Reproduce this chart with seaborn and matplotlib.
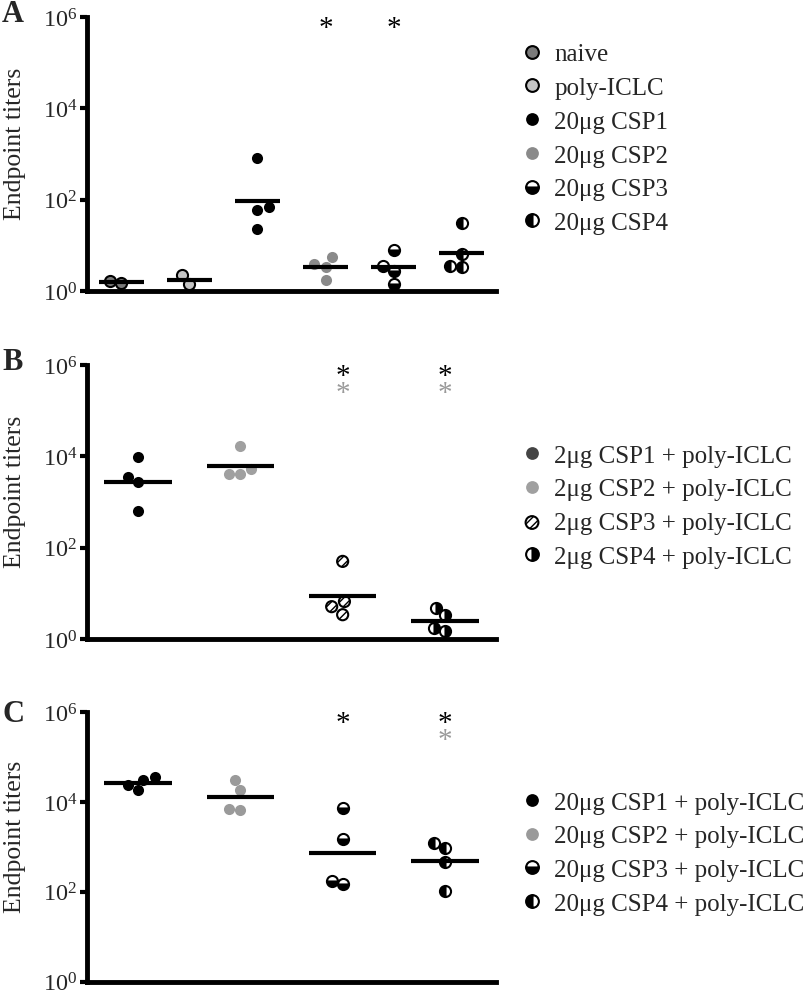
import numpy as np
import pandas as pd
import seaborn as sns
from matplotlib import pyplot as plt
from matplotlib.lines import Line2D
from matplotlib.ticker import NullLocator
from matplotlib.transforms import blended_transform_factory

# ---- panel A: ELISA endpoint titers, no adjuvant ----
groups_a = ['naive', 'poly-ICLC', '20μg CSP1', '20μg CSP2', '20μg CSP3', '20μg CSP4']
naive_a = [1.5, 1.66]
poly_a = [1.42, 2.24]
csp1_a = [812, 70, 60, 23]
csp2_a = [3.9, 5.5, 3.4, 1.74]
csp3_a = [8.1, 3.6, 2.8, 1.43]
csp4_a = [31, 6.5, 3.3, 3.5]
stars_a = [('20μg CSP2', 'black'), ('20μg CSP3', 'black')]

# ---- panel B: 2ug + poly-ICLC ----
groups_b = ['2μg CSP1 + poly-ICLC', '2μg CSP2 + poly-ICLC',
            '2μg CSP3 + poly-ICLC', '2μg CSP4 + poly-ICLC']
csp1_b = [9800, 3470, 2700, 620]
csp2_b = [16600, 5250, 4000, 4070]
csp3_b = [50, 6.6, 5.1, 3.4]
csp4_b = [3.35, 4.7, 1.5, 1.74]
stars_b = [('2μg CSP3 + poly-ICLC', 'black'), ('2μg CSP4 + poly-ICLC', 'black'),
           ('2μg CSP3 + poly-ICLC', 'gray'), ('2μg CSP4 + poly-ICLC', 'gray')]

# ---- panel C: 20ug + poly-ICLC ----
groups_c = ['20μg CSP1 + poly-ICLC', '20μg CSP2 + poly-ICLC',
            '20μg CSP3 + poly-ICLC', '20μg CSP4 + poly-ICLC']
csp1_c = [31600, 19000, 24500, 35500]
csp2_c = [31600, 19000, 6760, 6900]
csp3_c = [7400, 1480, 146, 174]
csp4_c = [1200, 930, 457, 105]
stars_c = [('20μg CSP3 + poly-ICLC', 'black'), ('20μg CSP4 + poly-ICLC', 'black'),
           ('20μg CSP4 + poly-ICLC', 'gray')]

GRAY_STAR = '#9a9a9a'
MS = 8

# marker styles (face, edge, half fill ...)
styles_a = [
    dict(face='#7a7a7a', edge='black', mew=1.5),
    dict(face='#c4c4c4', edge='black', mew=1.5),
    dict(face='black', edge='black', mew=0),
    dict(face='#8a8a8a', edge='#8a8a8a', mew=0),
    dict(face='black', edge='black', mew=1.5, fill='bottom', alt='white'),
    dict(face='black', edge='black', mew=1.5, fill='left', alt='white'),
]
styles_b = [
    dict(face='black', edge='black', mew=0, legend_face='#444444'),
    dict(face='#a0a0a0', edge='#a0a0a0', mew=0),
    dict(face='white', edge='black', mew=1.5, hatch='////'),
    dict(face='black', edge='black', mew=1.5, fill='right', alt='white'),
]
styles_c = [
    dict(face='black', edge='black', mew=0),
    dict(face='#9a9a9a', edge='#9a9a9a', mew=0),
    dict(face='black', edge='black', mew=1.5, fill='bottom', alt='white'),
    dict(face='black', edge='black', mew=1.5, fill='left', alt='white'),
]

sns.set_style('white')
plt.rcParams['font.family'] = ['Liberation Serif', 'DejaVu Serif']
plt.rcParams['mathtext.fontset'] = 'custom'
plt.rcParams['mathtext.rm'] = 'Liberation Serif'


def marker_kw(st, face=None):
    return dict(marker='o', ls='none', ms=MS,
                mfc=face or st['face'], mec=st['edge'], mew=st['mew'],
                fillstyle=st.get('fill', 'full'),
                markerfacecoloralt=st.get('alt', 'white'))


def make_panel(ax, groups, values, styles, stars):
    df = pd.DataFrame({
        'group': np.repeat(groups, [len(v) for v in values]),
        'titer': np.concatenate(values),
    })
    pal = {g: st['face'] for g, st in zip(groups, styles)}
    sns.swarmplot(data=df, x='group', y='titer', hue='group', order=groups,
                  hue_order=groups, palette=pal, size=MS, log_scale=True,
                  legend=False, ax=ax)
    colls = list(ax.collections)

    # geometric mean bars
    for i, v in enumerate(values):
        gm = 10 ** np.mean(np.log10(v))
        ax.plot([i - 0.33, i + 0.33], [gm, gm], color='black', lw=3,
                solid_capstyle='butt', zorder=4, clip_on=False)

    ax.set_ylim(1, 1e6)
    ax.set_xlim(-0.5, len(groups) - 0.5)
    ax.set_yticks([1, 1e2, 1e4, 1e6])
    ax.yaxis.set_minor_locator(NullLocator())
    ax.set_xticks([])
    ax.set_xlabel('')
    ax.set_ylabel('Endpoint titers', fontsize=18.5)
    ax.yaxis.set_label_coords(-0.148, 0.54)
    ax.tick_params(axis='y', length=5, width=3, pad=2, labelsize=17.5,
                   color='black', left=True)
    for side in ['top', 'right']:
        ax.spines[side].set_visible(False)
    for side in ['left', 'bottom']:
        ax.spines[side].set_linewidth(3.5)
        ax.spines[side].set_color('black')
        ax.spines[side].set_capstyle('projecting')

    trans = blended_transform_factory(ax.transData, ax.transAxes)
    seen = {}
    for g, col in stars:
        i = groups.index(g)
        k = seen.get(g, 0)
        seen[g] = k + 1
        ax.text(i, 0.933 - 0.061 * k, '*', transform=trans, ha='center',
                va='baseline', fontsize=21,
                color='black' if col == 'black' else GRAY_STAR)
    return colls


fig = plt.figure(figsize=(8.1, 9.95), dpi=100)
ax_a = fig.add_axes([0.1074, 0.7065, 0.505, 0.2754])
ax_b = fig.add_axes([0.1074, 0.3568, 0.505, 0.2754])
ax_c = fig.add_axes([0.1074, 0.0125, 0.505, 0.2705])

panels = [
    (ax_a, groups_a, [naive_a, poly_a, csp1_a, csp2_a, csp3_a, csp4_a], styles_a, stars_a, 0.8598),
    (ax_b, groups_b, [csp1_b, csp2_b, csp3_b, csp4_b], styles_b, stars_b, 0.4905),
    (ax_c, groups_c, [csp1_c, csp2_c, csp3_c, csp4_c], styles_c, stars_c, 0.1417),
]
swarms = [make_panel(ax, g, v, s, st) for ax, g, v, s, st, _ in panels]

# swarm positions are computed at draw time, so draw once and restyle
fig.canvas.draw()
for (ax, groups, values, styles, stars, leg_y), colls in zip(panels, swarms):
    for coll in colls:
        offs = np.asarray(coll.get_offsets())
        if len(offs) == 0:
            continue
        i = int(round(np.median(offs[:, 0])))
        st = styles[i]
        if 'hatch' in st:
            coll.set_facecolor(st['face'])
            coll.set_edgecolor(st['edge'])
            coll.set_linewidth(st['mew'])
            coll.set_hatch(st['hatch'])
            coll.set_clip_on(False)
            coll.set_zorder(3)
        else:
            coll.set_visible(False)
            ax.plot(offs[:, 0], offs[:, 1], clip_on=False, zorder=3, **marker_kw(st))

    handles = []
    for st in styles:
        if 'hatch' in st:
            h = ax.scatter([], [], s=MS ** 2, marker='o', facecolor=st['face'],
                           edgecolor=st['edge'], linewidth=st['mew'], hatch=st['hatch'])
        else:
            h = Line2D([], [], **marker_kw(st, st.get('legend_face')))
        handles.append(h)
    fig.legend(handles, groups, loc='center left', bbox_to_anchor=(522 / 810, leg_y),
               frameon=False, fontsize=18, handlelength=0.8, handletextpad=0.5,
               labelspacing=0.45, borderpad=0, borderaxespad=0, scatterpoints=1,
               markerscale=1.15)

for letter, y in [('A', 1 - 15 / 995), ('B', 1 - 363 / 995), ('C', 1 - 715 / 995)]:
    fig.text(13 / 810, y, letter, fontsize=22, fontweight='bold', ha='center', va='center')

fig.savefig('out.png', dpi=100)
